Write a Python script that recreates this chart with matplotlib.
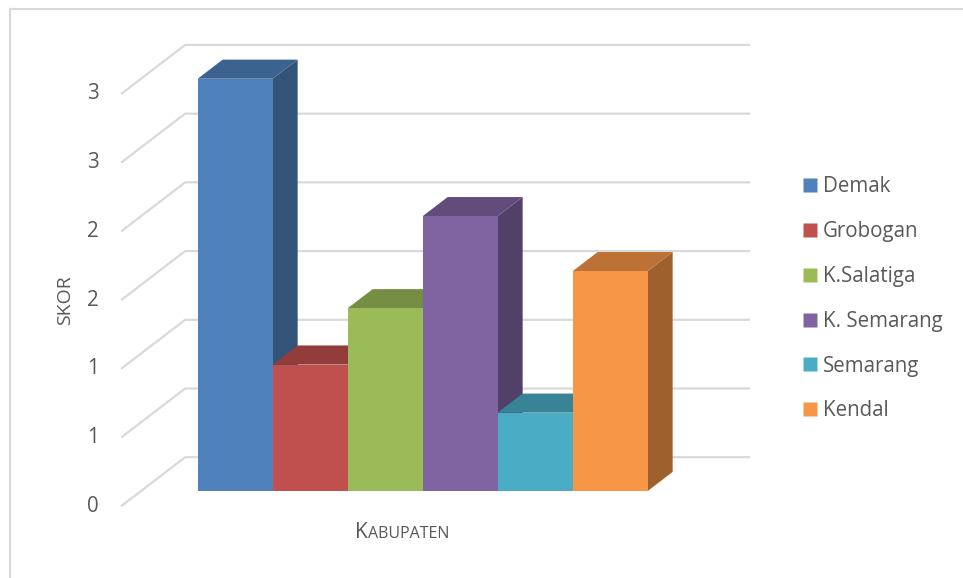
import matplotlib
matplotlib.use("Agg")
import matplotlib.pyplot as plt
from matplotlib.patches import Polygon
from matplotlib.lines import Line2D
from matplotlib.offsetbox import TextArea, HPacker, AnnotationBbox
import matplotlib.colors as mcolors
import numpy as np

# ---- data ----
categories = ["Demak", "Grobogan", "K.Salatiga", "K. Semarang", "Semarang", "Kendal"]
values = [3.0, 0.92, 1.33, 2.0, 0.57, 1.6]
colors = ["#4F81BD", "#C0504D", "#9BBB59", "#8064A2", "#4BACC6", "#F79646"]
tick_values = [0, 0.5, 1.0, 1.5, 2.0, 2.5, 3.0]
tick_labels = ["0", "1", "1", "2", "2", "3", "3"]
y_title = "SKOR"
x_title = "KABUPATEN"

plt.rcParams["font.family"] = ["Open Sans", "DejaVu Sans"]
TXT = "#595959"
GRID = "#D9D9D9"

W, H = 963, 578
fig = plt.figure(figsize=(W / 100, H / 100), dpi=100)
ax = fig.add_axes([0, 0, 1, 1])
ax.set_xlim(-3.136, 9.704)
ax.set_ylim(-0.633, 3.573)
ax.axis("off")

# oblique projection: one unit of depth moves right and up
DX, DY = 0.853, 0.3566
d_front, d_wall = -0.31, 0.69     # gridline front edge / back wall, relative to bar faces
bar_depth = 0.39
x_left = -1.256                   # left edge of the plot floor at the bar-face plane
x_wall_right = 6.864              # right end of the back-wall gridlines


def shift(x, y, d):
    return x + d * DX, y + d * DY


def shade(c, f):
    r, g, b = mcolors.to_rgb(c)
    return (r * f, g * f, b * f)


# gridlines: diagonal on the side wall + horizontal on the back wall
for v in tick_values:
    p0 = shift(x_left, v, d_front)
    p1 = shift(x_left, v, d_wall)
    p2 = (x_wall_right, p1[1])
    ax.plot([p0[0], p1[0], p2[0]], [p0[1], p1[1], p2[1]],
            color=GRID, lw=1.6, solid_capstyle="butt", zorder=1)

# tick labels at the front end of the gridlines
for v, lab in zip(tick_values, tick_labels):
    ax.text(-1.816, v + d_front * DY, lab, ha="right", va="center",
            fontsize=14.8, color=TXT, zorder=2)

# bars, drawn left to right so later faces cover earlier side faces
xs = np.arange(len(values))
for i, (v, c) in enumerate(zip(values, colors)):
    xl, xr = i - 0.5, i + 0.5
    side = [(xr, 0), (xr, v), shift(xr, v, bar_depth), shift(xr, 0, bar_depth)]
    top = [(xl, v), (xr, v), shift(xr, v, bar_depth), shift(xl, v, bar_depth)]
    ax.add_patch(Polygon(side, closed=True, facecolor=shade(c, 0.64),
                         edgecolor="none", zorder=10 + 3 * i))
    ax.add_patch(Polygon(top, closed=True, facecolor=shade(c, 0.76),
                         edgecolor="none", zorder=11 + 3 * i))
    ax.bar(xs[i], v, width=1.0, color=c, edgecolor="none", zorder=12 + 3 * i)

# axis titles
ax.text(-2.269, 1.39, y_title, rotation=90, ha="center", va="center",
        fontsize=14, color=TXT)
title_box = HPacker(children=[
    TextArea("K", textprops=dict(fontsize=15, color=TXT)),
    TextArea(x_title[1:], textprops=dict(fontsize=11.5, color=TXT)),
], align="baseline", pad=0, sep=0)
ab = AnnotationBbox(title_box, (402 / W, 1 - 533 / H), xycoords="figure fraction",
                    frameon=False, box_alignment=(0.5, 0.5))
ax.add_artist(ab)

# legend
handles = [Line2D([], [], marker="s", linestyle="none", markersize=10.5,
                  markerfacecolor=c, markeredgecolor="none") for c in colors]
leg = fig.legend(handles, categories, loc="upper left",
                 bbox_to_anchor=(791 / W, 1 - 166 / H), frameon=False,
                 fontsize=14.8, labelcolor=TXT, handlelength=0.8,
                 handletextpad=0.25, labelspacing=1.16, borderpad=0)

# chart border (left and top edges)
fig.add_artist(Line2D([9.5 / W, 9.5 / W], [0, 1 - 8.5 / H], color=GRID, lw=1.5))
fig.add_artist(Line2D([9.5 / W, 1], [1 - 8.5 / H, 1 - 8.5 / H], color=GRID, lw=1.5))

fig.savefig("out.png", dpi=100, facecolor="white")
